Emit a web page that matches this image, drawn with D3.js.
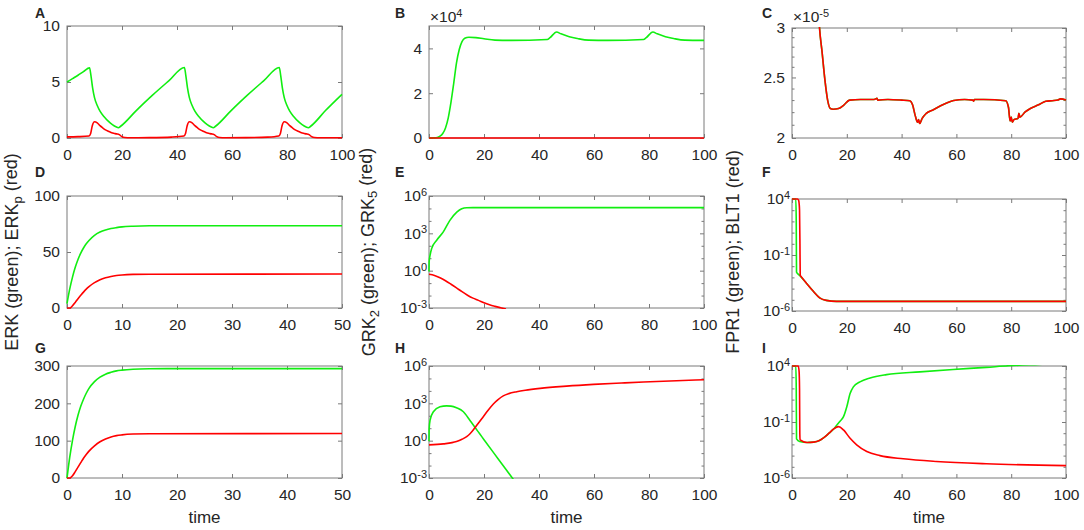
<!DOCTYPE html>
<html>
<head>
<meta charset="utf-8">
<script src="https://cdn.jsdelivr.net/npm/d3@7"></script>
<style>
  body { margin: 0; background: #fff; }
  svg text { font-family: "Liberation Sans", Arial, Helvetica, sans-serif; fill: #262626; }
</style>
</head>
<body>
<svg id="fig" width="1084" height="530"></svg>
<script>
// ---- values: [time, value] ----
const xTicks100 = [0, 20, 40, 60, 80, 100];
const xTicks50 = [0, 10, 20, 30, 40, 50];

// A
const aGreen = [[0,5.0],[2,5.3],[4,5.6],[6,5.93],[8.2,6.26],[8.7,5.6],[9.3,4.5],[10,3.6],[11,2.9],[12,2.4],[13.5,1.9],[15,1.5],[16.5,1.2],[17.8,1.0],[18.7,0.92],[19.5,1.05],[25,2.4],[31,3.8],[37,5.1],[42.7,6.3],
  [43.2,5.6],[43.8,4.5],[44.5,3.6],[45.5,2.9],[46.5,2.4],[48,1.9],[49.5,1.5],[51,1.2],[52.3,1.0],[53.2,0.92],[54,1.05],[59.5,2.4],[65.5,3.8],[71.5,5.1],[77.2,6.3],
  [77.7,5.6],[78.3,4.5],[79,3.6],[80,2.9],[81,2.4],[82.5,1.9],[84,1.5],[85.5,1.2],[86.8,1.0],[87.8,0.92],[88.6,1.05],[94,2.45],[100,3.9]];
const aRed = [[0,0.1],[4,0.12],[8,0.18],[8.6,0.4],[9.2,1.1],[10,1.45],[11,1.35],[12,1.1],[13,0.9],[14,0.72],[15,0.6],[16,0.5],[17,0.42],[18,0.37],[19,0.3],[19.8,0.15],[21,0.04],[23,0.02],[30,0.03],[38,0.08],
  [42.5,0.18],[43.1,0.4],[43.7,1.1],[44.5,1.45],[45.5,1.35],[46.5,1.1],[47.5,0.9],[48.5,0.72],[49.5,0.6],[50.5,0.5],[51.5,0.42],[52.5,0.37],[53.5,0.3],[54.3,0.15],[55.5,0.04],[57.5,0.02],[65,0.03],[73,0.08],
  [77,0.18],[77.6,0.4],[78.2,1.1],[79,1.45],[80,1.35],[81,1.1],[82,0.9],[83,0.72],[84,0.6],[85,0.5],[86,0.42],[87,0.37],[88,0.3],[88.8,0.15],[90,0.04],[92,0.02],[100,0.02]];

// B
const bGreen = [[0,0],[2,50],[3,200],[4,800],[5,2000],[6,4500],[7,9000],[8,16000],[9,24500],[10,33500],[11,39500],[12,43000],[13,44500],[14.5,45000],[17,44800],[20,44300],[24,43700],[30,43600],
  [43,44000],[44,44800],[46.4,47300],[48,46500],[51,45200],[54,44400],[58,43700],[65,43600],[78,44000],[79,44800],[81.4,47300],[83,46500],[86,45200],[89,44400],[93,43700],[100,43600]];
const bRed = [[0,0],[100,0]];

// C (log axis)
const cRed = [[9.5,3.3e-5],[10,3.02e-5],[11,2.74e-5],[12,2.48e-5],[13,2.3e-5],[14,2.23e-5],[15,2.224e-5],[17,2.23e-5],[19,2.26e-5],[21,2.3e-5],[25,2.305e-5],[30,2.305e-5],[31,2.315e-5],[31.3,2.3e-5],[35,2.305e-5],[40,2.3e-5],[43,2.295e-5],
  [44,2.26e-5],[45,2.17e-5],[45.8,2.12e-5],[46.2,2.14e-5],[46.6,2.11e-5],[47.5,2.15e-5],[49,2.19e-5],[51.6,2.22e-5],[55,2.26e-5],[59,2.296e-5],[63,2.305e-5],[66,2.3e-5],[66.3,2.29e-5],[66.6,2.305e-5],[70,2.305e-5],
  [78,2.295e-5],[79,2.24e-5],[79.6,2.13e-5],[80,2.16e-5],[80.4,2.12e-5],[81,2.14e-5],[82.5,2.15e-5],[82.8,2.19e-5],[83.2,2.16e-5],[85,2.2e-5],[87,2.23e-5],[90,2.26e-5],[92.6,2.29e-5],[95,2.295e-5],[97,2.3e-5],[98,2.31e-5],[100,2.3e-5]];
const cGreen = cRed;

// D
const dGreen = [[0,4],[0.5,17],[1,27.6],[1.5,36.3],[2,43.3],[2.5,49],[3,53.6],[3.5,57.3],[4,60.3],[5,64.9],[6,67.8],[7,69.7],[8,71],[9,71.8],[10,72.4],[12,73],[15,73.4],[50,73.5]];
const dRed = [[0,0],[0.5,0],[1,2],[1.5,5],[2,8.3],[2.5,11.3],[3,14.2],[3.5,16.8],[4,19],[5,22.6],[6,25.2],[7,27],[8,28.2],[9,29],[10,29.5],[12,30],[15,30.2],[50,30.3]];

// E (log axis)
const eGreen = [[0,0.85],[0.05,5],[0.4,18],[1,62],[2.8,280],[5.2,1300],[7.6,11000],[10.1,50000],[11.9,95000],[13.7,115000],[16,117000],[100,117000]];
const eRed = [[0,0.51],[2,0.41],[4,0.27],[6,0.155],[8,0.081],[10,0.041],[12,0.0204],[14,0.0107],[16,0.0062],[18,0.0041],[20,0.0026],[22,0.0018],[24,0.00135],[26,0.00105],[28,0.00083]];

// F (log axis)
const fGreen = [[0,1e4],[1.4,1e4],[1.55,100],[1.65,3e-3],[2.8,1.5e-3],[5.2,3.2e-4],[7.7,6e-5],[10.1,1.5e-5],[12.5,8.9e-6],[16.2,7.2e-6],[100,7.2e-6]];
const fRed = [[0,1e4],[2,1e4],[2.4,8000],[2.6,4000],[2.75,1000],[2.9,1],[3.0,1.5e-3],[3.1,1.4e-3],[5.2,3.2e-4],[7.7,6e-5],[10.1,1.5e-5],[12.5,8.9e-6],[16.2,7.2e-6],[20,7.2e-6],[100,7.2e-6]];

// G
const gGreen = [[0,0],[0.5,56],[1,101],[1.5,138],[2,168],[2.5,192],[3,211],[3.5,227],[4,240],[5,258],[6,270],[7,278],[8,283],[9,287],[10,289],[12,291.3],[15,292.5],[20,293],[50,293]];
const gRed = [[0,0],[0.5,0],[1,6],[1.5,17],[2,29],[2.5,41],[3,53],[3.5,63],[4,72],[5,86],[6,97],[7,104.5],[8,110],[9,113.5],[10,115.5],[12,117.7],[15,118.7],[50,119]];

// H (log axis)
const hGreen = [[0,0.9],[0.05,8],[0.4,45],[1.6,210],[4,525],[6.4,630],[8,600],[10,440],[12.5,210],[14.9,42],[16.7,11.8],[18.5,3.4],[20,1.2],[23.4,0.115],[27,0.0098],[30.3,0.001],[33,0.00015]];
const hRed = [[0,0.46],[5.2,0.55],[10,0.85],[12,1.3],[13.7,2.1],[15,3.8],[16.7,11],[18,26],[19.8,89],[21.5,280],[23.4,890],[25,1900],[27,3980],[29,6030],[31.9,8510],[35,11200],[40.4,15850],[50,24000],[59.8,33100],[70,42700],[78,51300],[90,66100],[100,79400]];

// I (log axis)
const iGreen = [[0,1e4],[1.4,1e4],[1.55,100],[1.65,3.1e-3],[2.8,1.8e-3],[5.5,1.48e-3],[7.9,1.6e-3],[10,2.2e-3],[11.5,3.8e-3],[13.5,0.01],[15.2,0.024],[16.4,0.054],[17.6,0.12],[18.8,0.3],[20,2.3],[21.2,35],[22.4,138],[24.8,380],[28.5,850],[34.5,1700],[46.7,3000],[58.8,4900],[70.9,7600],[79,10500],[90,14000],[100,18000]];
const iRed = [[0,1e4],[2.3,1e4],[2.6,3000],[2.75,100],[2.85,1e-2],[2.95,2.5e-3],[5.5,1.48e-3],[7.9,1.6e-3],[10,2.2e-3],[11.5,3.8e-3],[13.5,0.01],[15.2,0.024],[17,0.039],[18.8,0.0195],[21.2,3.5e-3],[23.6,9.1e-4],[27.3,2.3e-4],[32.1,1.0e-4],[40.6,5.2e-5],[52.7,3.0e-5],[70.9,1.86e-5],[100,1.26e-5]];

const GREEN = "#11ee11", RED = "#ff0000";
const logTicksE = [1e-3, 1, 1e3, 1e6];
const logTicksF = [1e-6, 1e-1, 1e4];
const cTicks = [2e-5, 2.5e-5, 3e-5];

const panels = [
  {id:"A", box:[67,26,342,138], xMax:100, xTicks:xTicks100, yType:"lin", yDom:[0,10], yTicks:[0,5,10], lines:[[aGreen,GREEN],[aRed,RED]]},
  {id:"B", box:[429,26,704,138], xMax:100, xTicks:xTicks100, yType:"lin", yDom:[0,5e4], yTicks:[0,2e4,4e4], yFmt: v => v/1e4, expo:"4", lines:[[bGreen,GREEN],[bRed,RED]]},
  {id:"C", box:[792,28,1066,138], xMax:100, xTicks:xTicks100, yType:"logc", yDom:[2e-5,3e-5], yTicks:cTicks, yFmt: v => d3.format("~g")(+(v*1e5).toFixed(2)), expo:"-5", lines:[[cGreen,GREEN],[cRed,RED]]},
  {id:"D", box:[67,196,342,308], xMax:50, xTicks:xTicks50, yType:"lin", yDom:[0,100], yTicks:[0,50,100], lines:[[dGreen,GREEN],[dRed,RED]]},
  {id:"E", box:[429,196,704,308], xMax:100, xTicks:xTicks100, yType:"log", yDom:[1e-3,1e6], yTicks:logTicksE, lines:[[eGreen,GREEN],[eRed,RED]]},
  {id:"F", box:[792,199,1066,311], xMax:100, xTicks:xTicks100, yType:"log", yDom:[1e-6,1e4], yTicks:logTicksF, lines:[[fGreen,GREEN],[fRed,RED]]},
  {id:"G", box:[67,366,342,478], xMax:50, xTicks:xTicks50, yType:"lin", yDom:[0,300], yTicks:[0,100,200,300], lines:[[gGreen,GREEN],[gRed,RED]], xlabel:true},
  {id:"H", box:[429,366,704,478], xMax:100, xTicks:xTicks100, yType:"log", yDom:[1e-3,1e6], yTicks:logTicksE, lines:[[hGreen,GREEN],[hRed,RED]], xlabel:true},
  {id:"I", box:[792,366,1066,478], xMax:100, xTicks:xTicks100, yType:"log", yDom:[1e-6,1e4], yTicks:logTicksF, lines:[[iGreen,GREEN],[iRed,RED]], xlabel:true}
];

const letterX = [35, 395, 762];
const letterY = [18, 177, 353];

const svg = d3.select("#fig");
const AXC = "#7a7a7a";
const FS = 15.5;

function decades(dom) {
  let out = [];
  for (let e = Math.round(Math.log10(dom[0])); e <= Math.round(Math.log10(dom[1])); e++) out.push(Math.pow(10, e));
  return out;
}

panels.forEach(function(p, k) {
  const [x0, y0, x1, y1] = p.box;
  const g = svg.append("g");
  const x = d3.scaleLinear().domain([0, p.xMax]).range([x0, x1]);
  const y = (p.yType === "lin" ? d3.scaleLinear() : d3.scaleLog()).domain(p.yDom).range([y1, y0]);

  // clip
  svg.append("clipPath").attr("id", "clip" + p.id)
    .append("rect").attr("x", x0 - 1).attr("y", y0 - 1).attr("width", x1 - x0 + 2).attr("height", y1 - y0 + 2);

  // box
  g.append("rect").attr("x", x0).attr("y", y0).attr("width", x1 - x0).attr("height", y1 - y0)
    .attr("fill", "none").attr("stroke", AXC).attr("stroke-width", 1);

  // x axes (bottom labelled, top ticks only)
  g.append("g").attr("transform", "translate(0," + y1 + ")")
    .call(d3.axisBottom(x).tickValues(p.xTicks).tickSize(-4).tickSizeOuter(0).tickPadding(11));
  g.append("g").attr("transform", "translate(0," + y0 + ")")
    .call(d3.axisTop(x).tickValues(p.xTicks).tickSize(-4).tickSizeOuter(0).tickFormat(""));

  // y axes
  const isLog = p.yType === "log";
  const yl = g.append("g").attr("transform", "translate(" + x0 + ",0)")
    .call(d3.axisLeft(y).tickValues(p.yTicks).tickSize(-4).tickSizeOuter(0).tickPadding(isLog ? 2 : 7)
      .tickFormat(p.yFmt ? p.yFmt : (isLog ? (() => "") : d3.format("~g"))));
  g.append("g").attr("transform", "translate(" + x1 + ",0)")
    .call(d3.axisRight(y).tickValues(p.yTicks).tickSize(-4).tickSizeOuter(0).tickFormat(""));

  // minor ticks on log axes
  let minors = null;
  if (isLog) minors = decades(p.yDom).filter(v => p.yTicks.indexOf(v) < 0);
  if (p.yType === "logc") minors = [2.1e-5,2.2e-5,2.3e-5,2.4e-5,2.6e-5,2.7e-5,2.8e-5,2.9e-5];
  if (minors) {
    [[d3.axisLeft, x0], [d3.axisRight, x1]].forEach(function(a) {
      g.append("g").attr("transform", "translate(" + a[1] + ",0)")
        .call(a[0](y).tickValues(minors).tickSize(-2.5).tickSizeOuter(0).tickFormat(""));
    });
  }

  g.selectAll(".domain").remove();
  g.selectAll(".tick line").attr("stroke", AXC);
  g.selectAll(".tick text").attr("font-size", FS + "px").attr("fill", "#262626");

  // 10^n labels
  if (isLog) {
    yl.selectAll(".tick text").each(function(d) {
      const t = d3.select(this);
      t.text("");
      t.append("tspan").text("10");
      t.append("tspan").attr("dy", "-0.5em").attr("font-size", "11px").text(String(Math.round(Math.log10(d))));
    });
  }

  // exponent marker for B / C
  if (p.expo) {
    const ex = g.append("text").attr("x", x0 + 1).attr("y", y0 - 4 - (p.id === "C" ? 2 : 0)).attr("font-size", FS + "px");
    ex.append("tspan").text("\u00d710");
    ex.append("tspan").attr("dy", "-0.5em").attr("font-size", "11px").text(p.expo);
  }

  // lines
  const line = d3.line().x(d => x(d[0])).y(d => y(d[1])).curve(d3.curveMonotoneX);
  const lg = g.append("g").attr("clip-path", "url(#clip" + p.id + ")");
  p.lines.forEach(function(s) {
    lg.append("path").datum(s[0]).attr("d", line).attr("fill", "none")
      .attr("stroke", s[1]).attr("stroke-width", 1.6).attr("stroke-linejoin", "round");
  });

  // panel letter
  svg.append("text").attr("x", letterX[k % 3]).attr("y", letterY[Math.floor(k / 3)])
    .attr("font-size", "14px").attr("font-weight", "bold").attr("fill", "#000").text(p.id);

  if (p.xlabel) {
    svg.append("text").attr("x", (x0 + x1) / 2).attr("y", 523).attr("text-anchor", "middle")
      .attr("font-size", "17px").text("time");
  }
});

// y labels (rotated)
const yLabels = [
  {x: 18, parts: [["ERK (green); ERK"], ["p", "sub"], [" (red)"]]},
  {x: 375, parts: [["GRK"], ["2", "sub"], [" (green); GRK"], ["5", "sub"], [" (red)"]]},
  {x: 739, parts: [["FPR1 (green); BLT1 (red)"]]}
];
yLabels.forEach(function(l) {
  const t = svg.append("text").attr("transform", "translate(" + l.x + ",252) rotate(-90)")
    .attr("text-anchor", "middle").attr("font-size", "18px");
  l.parts.forEach(function(pt) {
    const s = t.append("tspan").text(pt[0]);
    if (pt[1] === "sub") s.attr("dy", "0.3em").attr("font-size", "13px");
    else if (t.selectAll("tspan").size() > 1) s.attr("dy", "-0.3em");
  });
});
</script>
</body>
</html>
